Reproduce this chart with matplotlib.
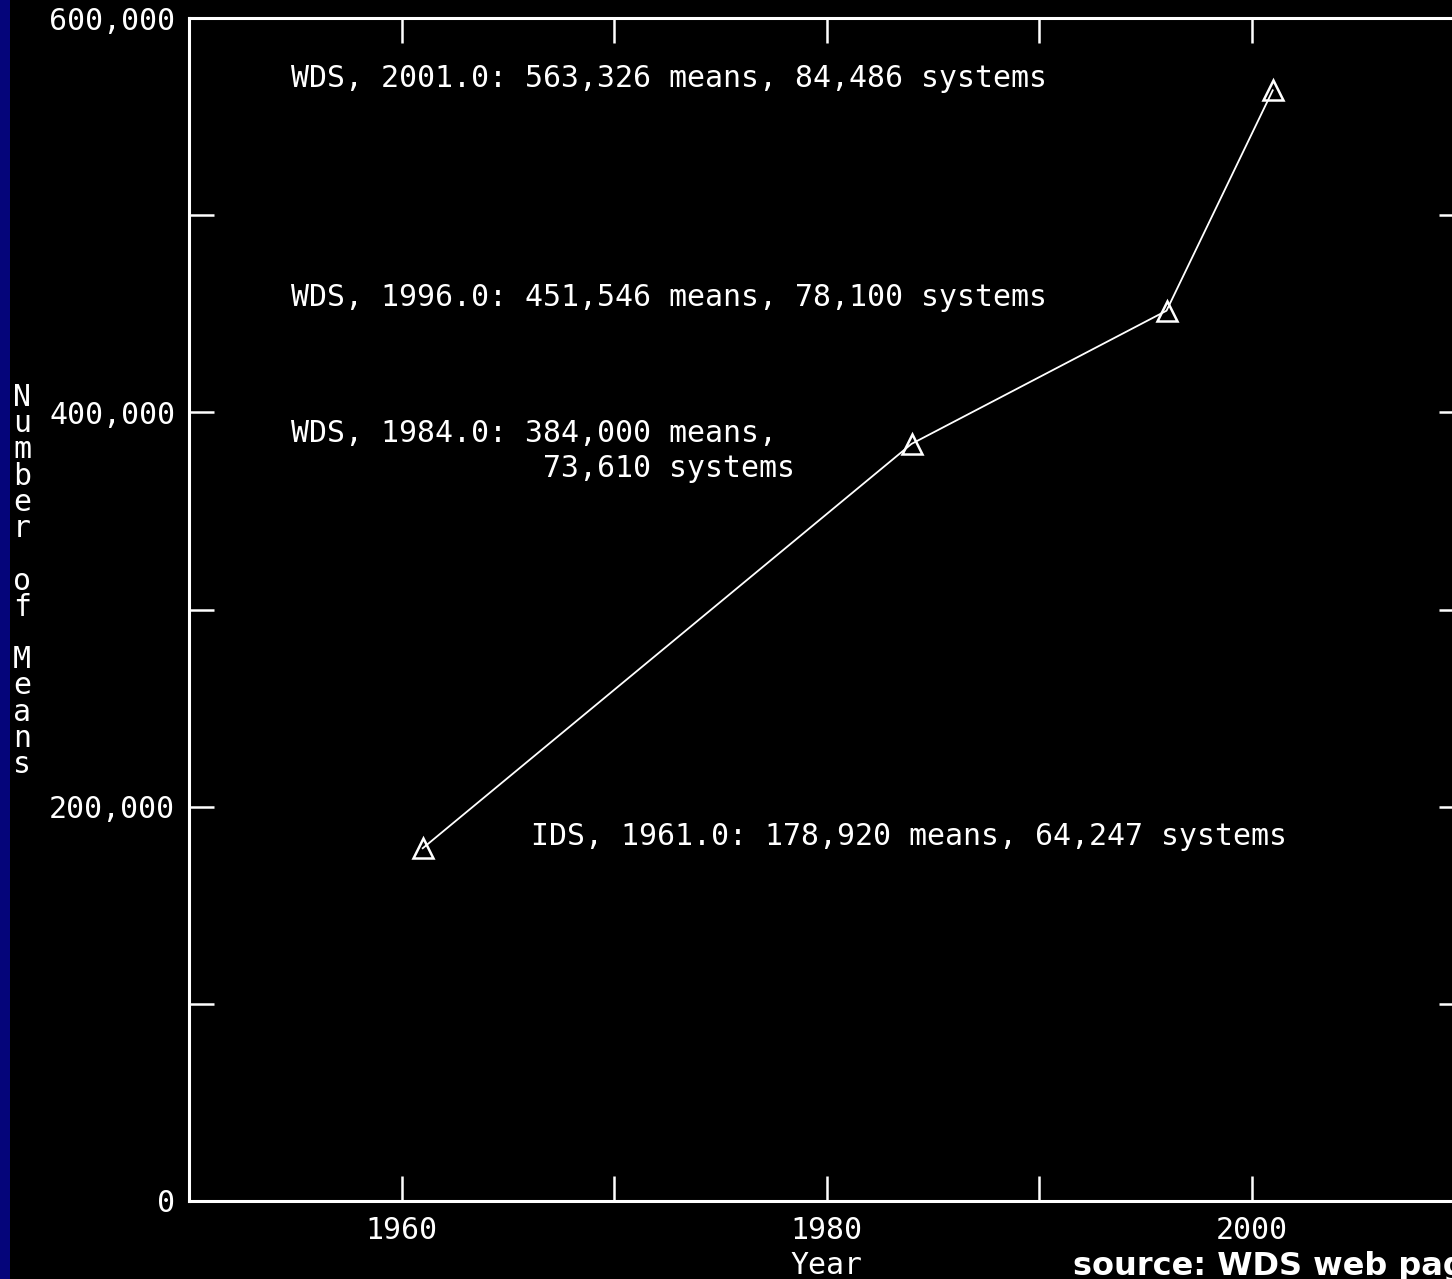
import matplotlib.pyplot as plt
from matplotlib.patches import Rectangle
from matplotlib.ticker import FuncFormatter, MultipleLocator

years = [1961, 1984, 1996, 2001]
means = [178920, 384000, 451546, 563326]
labels = [
    "IDS, 1961.0: 178,920 means, 64,247 systems",
    "WDS, 1984.0: 384,000 means,\n              73,610 systems",
    "WDS, 1996.0: 451,546 means, 78,100 systems",
    "WDS, 2001.0: 563,326 means, 84,486 systems",
]
# where each note sits (data coords, left / centre)
label_pos = [(1966.1, 185000), (1954.8, 380500), (1954.8, 458000), (1954.8, 569500)]

mono = "DejaVu Sans Mono"
fs = 21.5

fig = plt.figure(figsize=(14.52, 12.79), dpi=100, facecolor="black")
fig.patches.append(Rectangle((0, 0), 10 / 1452, 1, transform=fig.transFigure,
                             facecolor="#05057a", edgecolor="none"))

ax = fig.add_axes([189 / 1452, 78 / 1279, 1275 / 1452, 1183 / 1279])
ax.set_facecolor("black")
ax.plot(years, means, color="white", lw=1.3, marker="^", ms=14,
        mfc="none", mec="white", mew=1.8)

for txt, (x, y) in zip(labels, label_pos):
    ax.text(x, y, txt, color="white", family=mono, fontsize=fs,
            ha="left", va="center", linespacing=1.25)

ax.set_xlim(1950, 2010)
ax.set_ylim(0, 600000)
ax.xaxis.set_major_locator(MultipleLocator(20))
ax.xaxis.set_minor_locator(MultipleLocator(10))
ax.yaxis.set_major_locator(MultipleLocator(200000))
ax.yaxis.set_minor_locator(MultipleLocator(100000))
ax.yaxis.set_major_formatter(FuncFormatter(lambda v, p: f"{int(v):,}"))

for s in ax.spines.values():
    s.set_color("white")
    s.set_linewidth(2.2)
ax.tick_params(which="both", direction="in", length=18, width=1.8,
               color="white", top=True, right=True, labelcolor="white",
               labelsize=fs)
for lab in ax.get_xticklabels() + ax.get_yticklabels():
    lab.set_family(mono)
ax.tick_params(axis="x", pad=11)
ax.tick_params(axis="y", pad=10)

ax.set_xlabel("Year", color="white", family=mono, fontsize=fs, labelpad=4)
fig.text(22 / 1452, 1 - 581 / 1279, "\n".join("Number of Means"), color="white",
         family=mono, fontsize=fs, ha="center", va="center", linespacing=0.88)

fig.text(1073 / 1452, 1 - 1266 / 1279, "source: WDS web page", color="white",
         fontsize=23, fontweight="bold", ha="left", va="center")

fig.savefig("out.png", dpi=100, facecolor="black")
